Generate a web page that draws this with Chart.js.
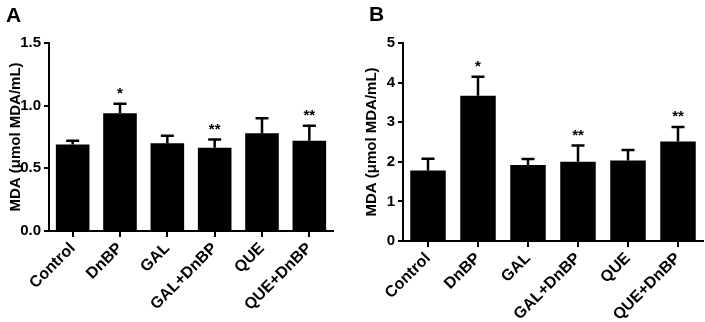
<!DOCTYPE html>
<html>
<head>
<meta charset="utf-8">
<script src="https://cdn.jsdelivr.net/npm/chart.js@4"></script>
<style>
  body { margin: 0; background: #fff; }
  #wrap { position: relative; width: 705px; height: 322px; overflow: hidden; }
  .panel { position: absolute; top: 0; height: 322px; }
  .letter { position: absolute; font: bold 21px "Liberation Sans", Arial, sans-serif; color: #000; }
</style>
</head>
<body>
<div id="wrap">
  <div class="panel" style="left:0;width:352px"><canvas id="chartA" width="352" height="322"></canvas></div>
  <div class="panel" style="left:352px;width:353px"><canvas id="chartB" width="353" height="322"></canvas></div>
  <div class="letter" style="left:6px;top:3px">A</div>
  <div class="letter" style="left:369px;top:2px">B</div>
</div>
<script>
// groups
const groups = ['Control', 'DnBP', 'GAL', 'GAL+DnBP', 'QUE', 'QUE+DnBP'];

// panel A, MDA umol/mL
const meanA = [0.69, 0.94, 0.70, 0.665, 0.78, 0.72];
const semA = [0.03, 0.075, 0.06, 0.065, 0.12, 0.12];
const sigA = ['', '*', '', '**', '', '**'];
const ticksA = [0, 0.5, 1.0, 1.5];

// panel B
const meanB = [1.78, 3.67, 1.92, 2.00, 2.03, 2.51];
const semB = [0.30, 0.48, 0.15, 0.41, 0.27, 0.37];
const sigB = ['', '*', '', '**', '', '**'];
const ticksB = [0, 1, 2, 3, 4, 5];

const FONT = '"Liberation Sans", Arial, sans-serif';
Chart.defaults.font.family = FONT;
Chart.defaults.color = '#000';

// draws the upper error bar + significance stars
const errBars = {
  id: 'errBars',
  afterDatasetsDraw(chart, args, opts) {
    const ctx = chart.ctx;
    const y = chart.scales.y;
    const meta = chart.getDatasetMeta(0);
    ctx.save();
    ctx.strokeStyle = '#000';
    ctx.lineWidth = 2.5;
    meta.data.forEach((bar, i) => {
      const top = y.getPixelForValue(opts.mean[i] + opts.sem[i]);
      ctx.beginPath();
      ctx.moveTo(bar.x, bar.y);
      ctx.lineTo(bar.x, top);
      ctx.moveTo(bar.x - 6.5, top);
      ctx.lineTo(bar.x + 6.5, top);
      ctx.stroke();
      if (opts.sig[i]) {
        ctx.fillStyle = '#000';
        ctx.font = 'bold 15px ' + FONT;
        ctx.textAlign = 'center';
        ctx.textBaseline = 'alphabetic';
        ctx.fillText(opts.sig[i], bar.x, top - 6);
      }
    });
    ctx.restore();
  }
};

function makeChart(id, mean, sem, sig, ticks, fmt, yWidth, xHeight, padRight, titlePad) {
  return new Chart(document.getElementById(id), {
    type: 'bar',
    data: {
      labels: groups,
      datasets: [{
        data: mean,
        backgroundColor: '#000',
        borderWidth: 0,
        categoryPercentage: 1.0,
        barPercentage: 0.71
      }]
    },
    options: {
      responsive: false,
      animation: false,
      layout: { padding: { top: 43, right: padRight, bottom: 0, left: 0 } },
      plugins: {
        legend: { display: false },
        tooltip: { enabled: false },
        errBars: { mean: mean, sem: sem, sig: sig }
      },
      scales: {
        x: {
          grid: { display: true, drawOnChartArea: false, offset: false, color: '#000', lineWidth: 2, tickLength: 6 },
          border: { display: true, color: '#000', width: 2 },
          ticks: { font: { size: 16, weight: 'bold' }, color: '#000', minRotation: 45, maxRotation: 45, padding: 2 },
          afterFit(s) { s.height = xHeight; }
        },
        y: {
          min: ticks[0],
          max: ticks[ticks.length - 1],
          afterBuildTicks(s) { s.ticks = ticks.map(v => ({ value: v })); },
          grid: { display: true, drawOnChartArea: false, color: '#000', lineWidth: 2, tickLength: 5 },
          border: { display: true, color: '#000', width: 2 },
          ticks: { font: { size: 15, weight: 'bold' }, color: '#000', padding: 3, callback: fmt },
          title: { display: true, text: 'MDA (μmol MDA/mL)', font: { size: 15, weight: 'bold' }, color: '#000', padding: { top: titlePad, bottom: 0 } },
          afterFit(s) { s.width = yWidth; }
        }
      }
    },
    plugins: [errBars]
  });
}

makeChart('chartA', meanA, semA, sigA, ticksA, v => Number(v).toFixed(1), 49, 91, 19, 7);
makeChart('chartB', meanB, semB, sigB, ticksB, v => String(v), 51, 81, 2, 11);
</script>
</body>
</html>
